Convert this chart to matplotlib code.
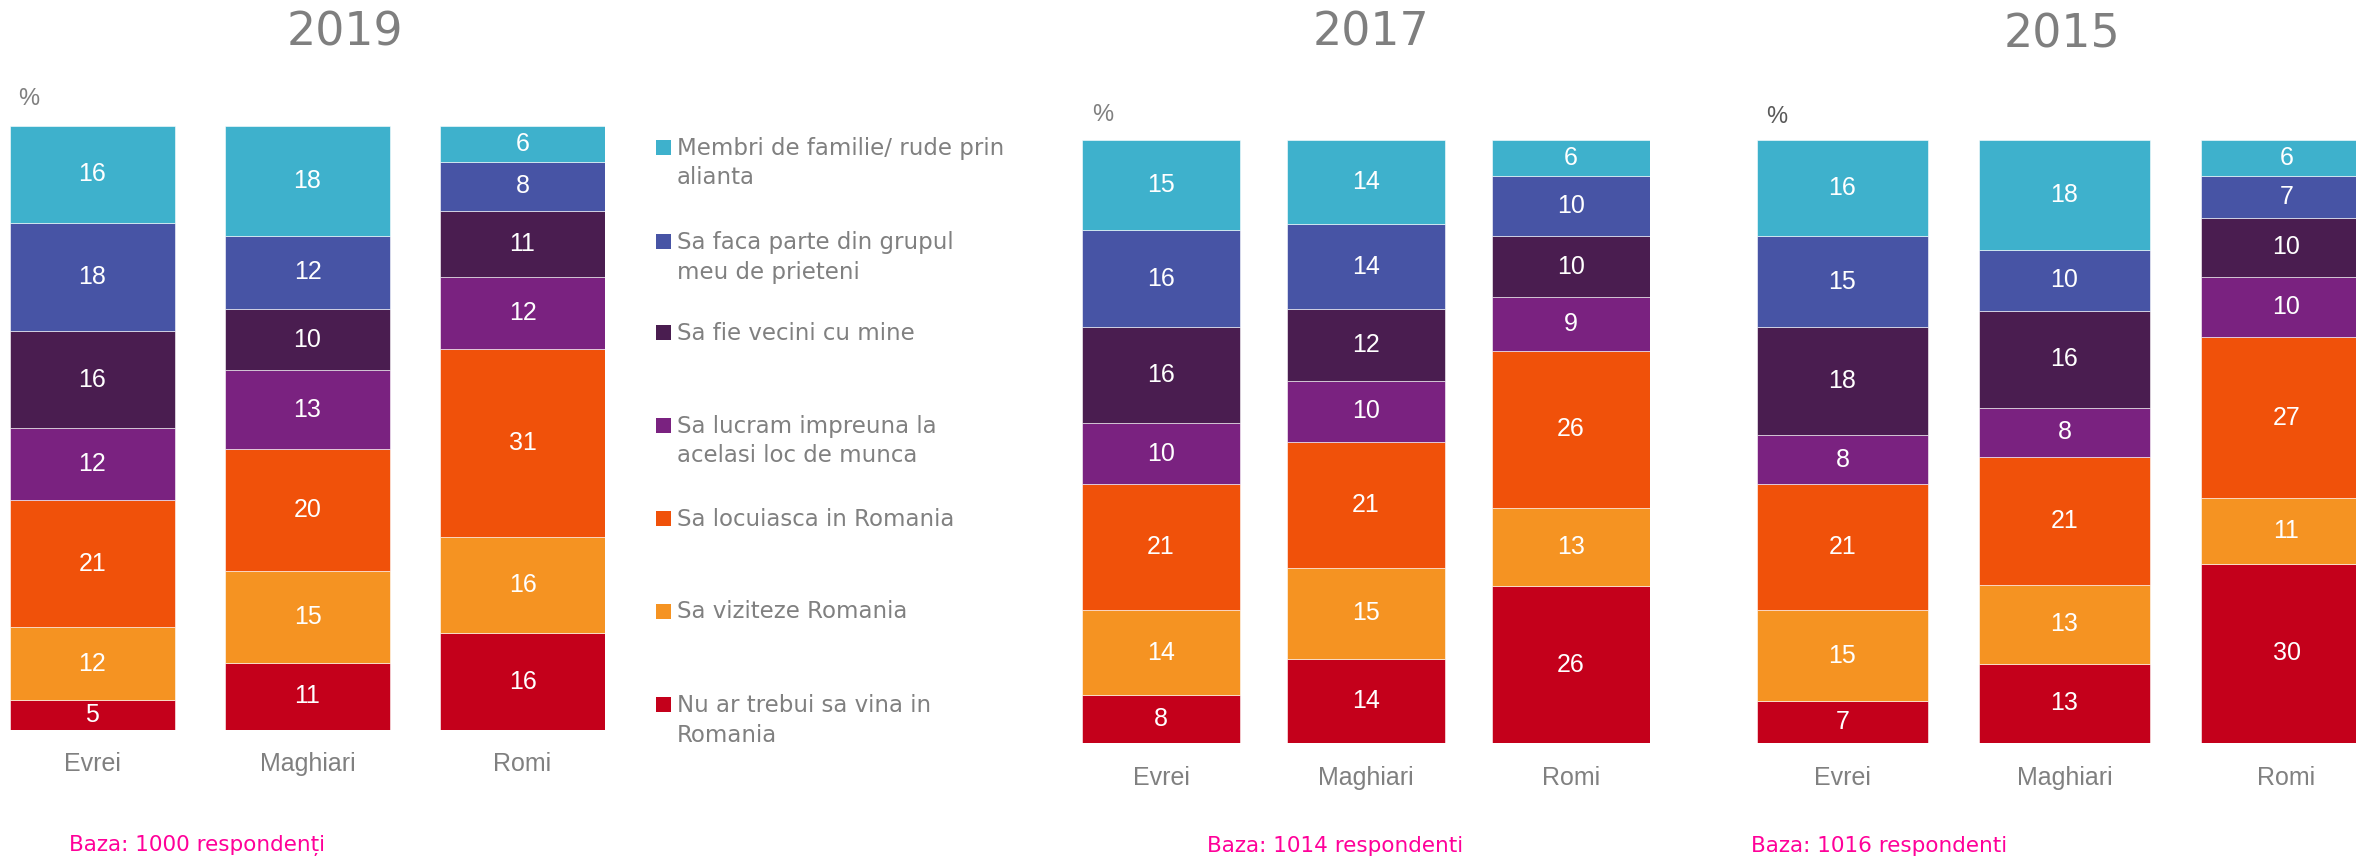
import matplotlib
matplotlib.use("Agg")
import matplotlib.pyplot as plt
from matplotlib import font_manager
from matplotlib.patches import Rectangle
import numpy as np

categories = ["Evrei", "Maghiari", "Romi"]
legend_labels = [
    "Membri de familie/ rude prin\nalianta",
    "Sa faca parte din grupul\nmeu de prieteni",
    "Sa fie vecini cu mine",
    "Sa lucram impreuna la\nacelasi loc de munca",
    "Sa locuiasca in Romania",
    "Sa viziteze Romania",
    "Nu ar trebui sa vina in\nRomania",
]
colors = ["#3EB1CC", "#4754A5", "#4A1D50", "#7A2280", "#F0510A", "#F59322", "#C4001B"]

# order: familie, prieteni, vecini, lucram, locuiasca, viziteze, nu
y2019 = [[16, 18, 6], [18, 12, 8], [16, 10, 11], [12, 13, 12], [21, 20, 31], [12, 15, 16], [5, 11, 16]]
y2017 = [[15, 14, 6], [16, 14, 10], [16, 12, 10], [10, 10, 9], [21, 21, 26], [14, 15, 13], [8, 14, 26]]
y2015 = [[16, 18, 6], [15, 10, 7], [18, 16, 10], [8, 8, 10], [21, 21, 27], [15, 13, 11], [7, 13, 30]]

years = ["2019", "2017", "2015"]
bases = ["Baza: 1000 respondenți", "Baza: 1014 respondenti", "Baza: 1016 respondenti"]

avail = {f.name for f in font_manager.fontManager.ttflist}
narrow = "Liberation Sans Narrow" if "Liberation Sans Narrow" in avail else "Liberation Sans"

W, H = 2356, 857
fig = plt.figure(figsize=(W / 100, H / 100), dpi=100)
fig.patch.set_facecolor("white")

def fx(p):
    return p / W

def fy(p):
    return 1 - p / H

GRAY = "#808080"

# panel geometry in pixels: left, right, top, bottom, bar width fraction
panels = [
    (10, 605, 126, 730, 0.767),
    (1082, 1650, 140, 743, 0.771),
    (1757, 2372, 140, 743, 0.77),
]
title_pos = [(345, 33), (1371, 33), (2062, 35)]
pct_pos = [(29, 99), (1103, 115), (1777, 117)]
pct_col = [GRAY, GRAY, "#595959"]
base_pos = [(69, 846), (1207, 846), (1751, 846)]
cat_y = [764, 778, 778]

datas = [y2019, y2017, y2015]
for i, data in enumerate(datas):
    l, r, t, b, w = panels[i]
    ax = fig.add_axes([fx(l), fy(b), (r - l) / W, (b - t) / H])
    arr = np.array(data, dtype=float)
    tot = arr.sum(axis=0)
    pct = arr / tot * 100
    x = np.arange(len(categories))
    bottom = np.zeros(len(categories))
    for k in range(len(legend_labels) - 1, -1, -1):
        ax.bar(x, pct[k], w, bottom=bottom, color=colors[k], edgecolor="white", linewidth=0.4)
        for j in range(len(categories)):
            ax.text(x[j], bottom[j] + pct[k][j] / 2, f"{int(arr[k][j])}", ha="center", va="center",
                    color="white", fontsize=18, family=narrow)
        bottom += pct[k]
    ax.set_xlim(-w / 2, len(categories) - 1 + w / 2)
    ax.set_ylim(0, 100)
    ax.axis("off")
    for j, c in enumerate(categories):
        xc = l + (r - l) * (x[j] + w / 2) / (len(categories) - 1 + w)
        fig.text(fx(xc), fy(cat_y[i]), c, ha="center", va="center", color=GRAY,
                 fontsize=18, family=narrow)
    fig.text(fx(title_pos[i][0]), fy(title_pos[i][1]), years[i], ha="center", va="center",
             color="#7F7F7F", fontsize=33, family="DejaVu Sans")
    fig.text(fx(pct_pos[i][0]), fy(pct_pos[i][1]), "%", ha="center", va="center",
             color=pct_col[i], fontsize=17, family=narrow)
    fig.text(fx(base_pos[i][0]), fy(base_pos[i][1]), bases[i], ha="left", va="center",
             color="#FF0099", fontsize=15.5, family="DejaVu Sans")

# legend
leg_y = [148, 242, 333, 426, 519, 612, 705]
for k, lab in enumerate(legend_labels):
    yy = leg_y[k]
    fig.patches.append(Rectangle((fx(656), fy(yy + 7)), 15 / W, 15 / H, transform=fig.transFigure,
                                 facecolor=colors[k], edgecolor="none"))
    for n, line in enumerate(lab.split("\n")):
        fig.text(fx(677), fy(yy + 30 * n), line, ha="left", va="center", color=GRAY,
                 fontsize=16.5, family="DejaVu Sans")

fig.savefig("out.png", dpi=100, facecolor="white")
